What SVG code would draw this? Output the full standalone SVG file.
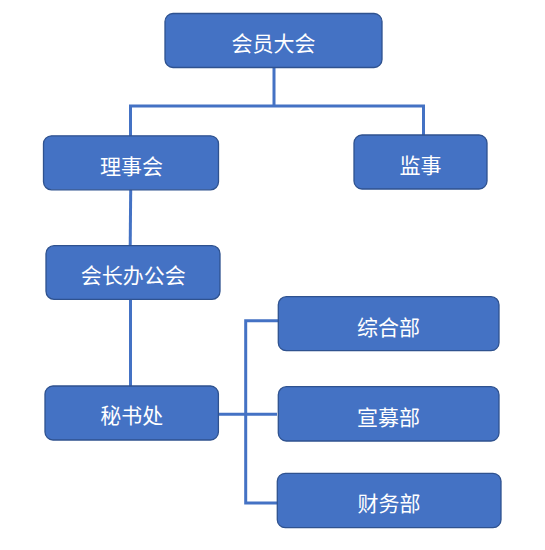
<svg xmlns="http://www.w3.org/2000/svg" width="545" height="550" viewBox="0 0 545 550">
<style>
.box{fill:#4472C4;stroke:#2F528F;stroke-width:1.3}
.lbl{fill:#ffffff;font-family:"Noto Sans CJK SC","Noto Sans",sans-serif;font-size:21px;text-anchor:middle;dominant-baseline:central}
.ln{fill:none;stroke:#4472C4;stroke-width:3}
</style>
<rect width="545" height="550" fill="#ffffff"/>
<g id="connectors">
<path class="ln" d="M274,67 V106 M130.5,136 V106 H423.5 V135"/>
<path class="ln" d="M130.7,189.7 L130.2,245.7"/>
<path class="ln" d="M130.5,299.3 V386"/>
<path class="ln" d="M218.5,414.3 H277"/>
<path class="ln" d="M278.3,320.7 H245.7 V503 H277.3"/>
</g>
<g id="n1"><rect class="box" x="165" y="13.5" width="217" height="54" rx="8"/><text class="lbl" x="273.5" y="42">会员大会</text></g>
<g id="n2"><rect class="box" x="43.5" y="135.8" width="175" height="54" rx="8"/><text class="lbl" x="131.5" y="164.5">理事会</text></g>
<g id="n3"><rect class="box" x="354" y="135" width="133" height="54" rx="8"/><text class="lbl" x="420.5" y="163.5">监事</text></g>
<g id="n4"><rect class="box" x="46" y="245.7" width="174" height="53.6" rx="8"/><text class="lbl" x="133.3" y="273.5">会长办公会</text></g>
<g id="n5"><rect class="box" x="45" y="386" width="173.4" height="54" rx="8"/><text class="lbl" x="131.7" y="414">秘书处</text></g>
<g id="n6"><rect class="box" x="278.3" y="296.7" width="220.7" height="54" rx="8"/><text class="lbl" x="388.5" y="325.5">综合部</text></g>
<g id="n7"><rect class="box" x="278.3" y="386.7" width="220.7" height="54.3" rx="8"/><text class="lbl" x="388.5" y="415.5">宣募部</text></g>
<g id="n8"><rect class="box" x="277.3" y="473.3" width="223.7" height="54.4" rx="8"/><text class="lbl" x="389" y="501.5">财务部</text></g>
</svg>
